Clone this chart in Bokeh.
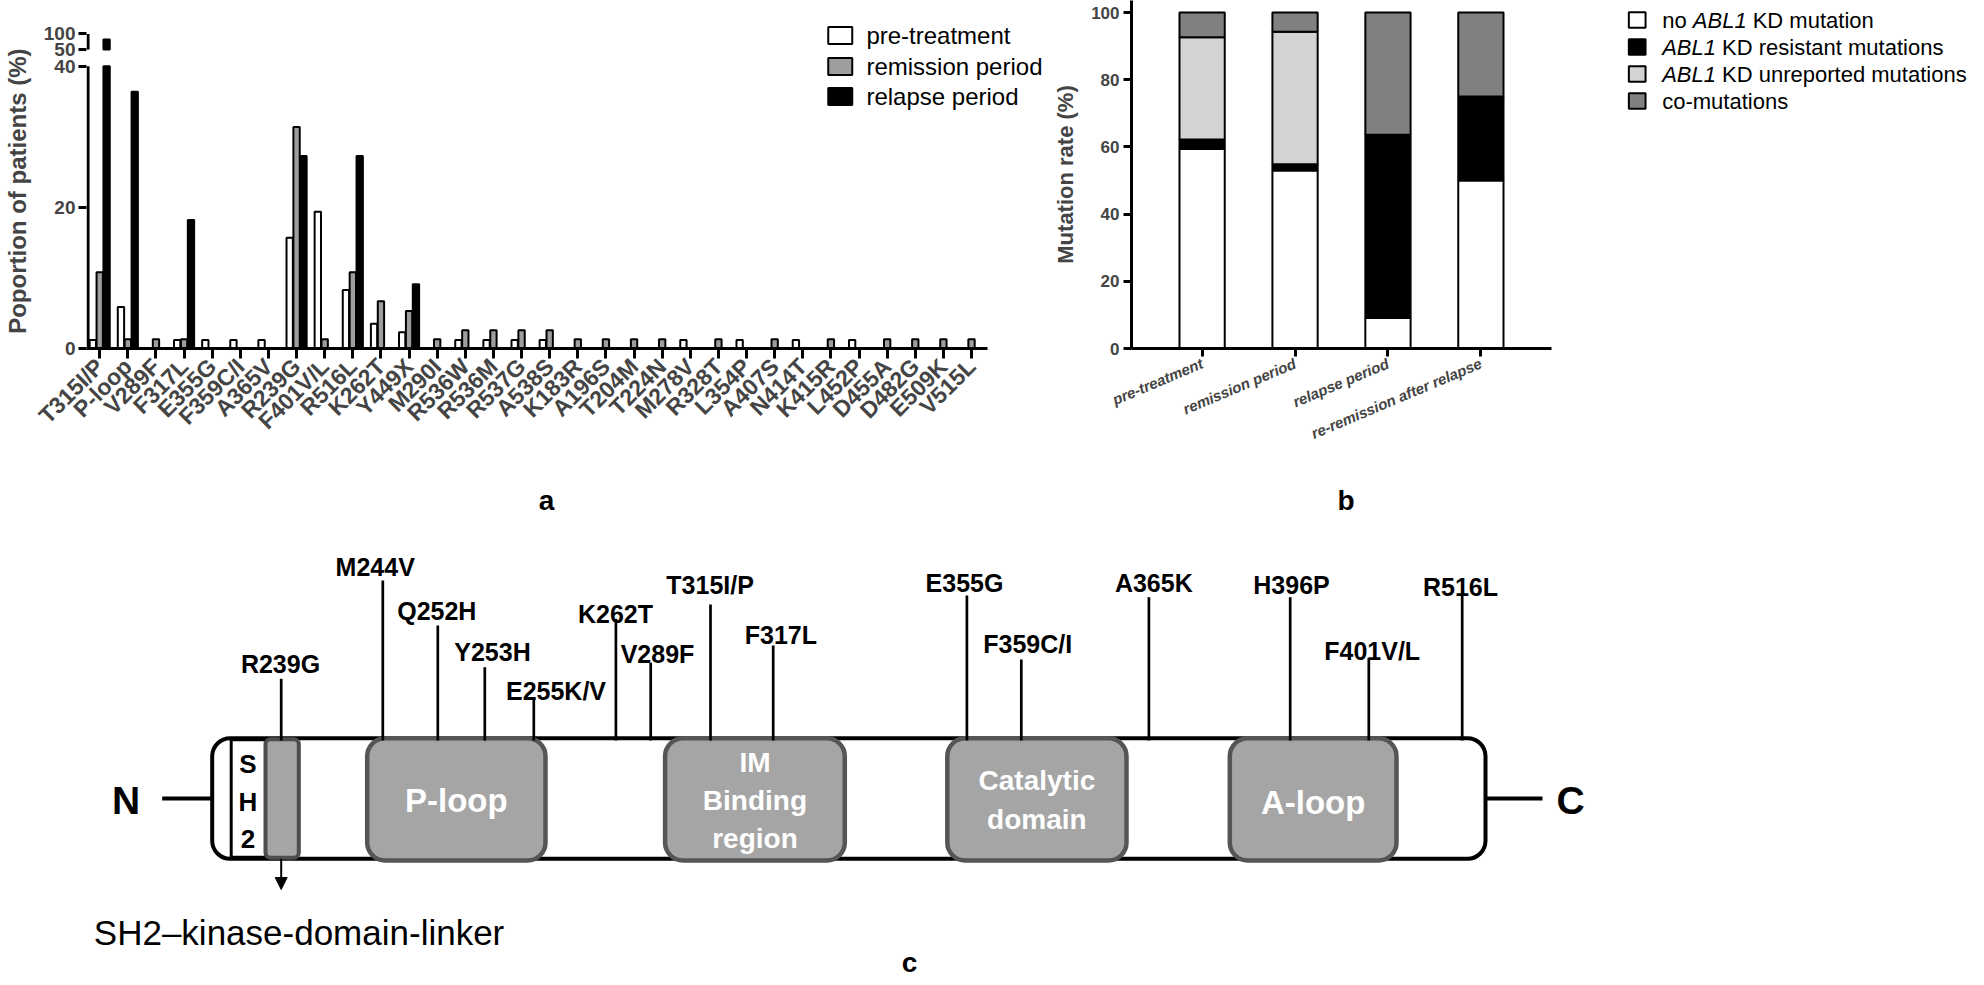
import math
from bokeh.plotting import figure
from bokeh.models import Range1d, FixedTicker, Arrow, NormalHead
from bokeh.layouts import column, row
from bokeh.embed import file_html
from bokeh.resources import INLINE
from bokeh.core.properties import value

FONT = "Liberation Sans"

# ---------------- Panel a data ----------------
mutations_a = ["T315I/P", "P-loop", "V289F", "F317L", "E355G", "F359C/I", "A365V", "R239G",
               "F401V/L", "R516L", "K262T", "Y449X", "M290I", "R536W", "R536M", "R537G",
               "A538S", "K183R", "A196S", "T204M", "T224N", "M278V", "R328T", "L354P",
               "A407S", "N414T", "K415R", "L452P", "D455A", "D482G", "E509K", "V515L"]
pre_treatment = [1.2, 5.9, 0, 1.2, 1.2, 1.2, 1.2, 15.7, 19.4, 8.3, 3.5, 2.3, 0, 1.2, 1.2, 1.2,
                 1.2, 0, 0, 0, 0, 1.2, 0, 1.2, 0, 1.2, 0, 1.2, 0, 0, 0, 0]
remission = [10.8, 1.3, 1.3, 1.3, 0, 0, 0, 31.4, 1.3, 10.8, 6.7, 5.3, 1.3, 2.6, 2.6, 2.6,
             2.6, 1.3, 1.3, 1.3, 1.3, 0, 1.3, 0, 1.3, 0, 1.3, 0, 1.3, 1.3, 1.3, 1.3]
relapse = [81.8, 36.4, 0, 18.2, 0, 0, 0, 27.3, 0, 27.3, 0, 9.1, 0, 0, 0, 0,
           0, 0, 0, 0, 0, 0, 0, 0, 0, 0, 0, 0, 0, 0, 0, 0]
series_a = ["pre-treatment", "remission period", "relapse period"]
y_ticks_a = [0, 20, 40, 50, 100]

# ---------------- Panel b data ----------------
groups_b = ["pre-treatment", "remission period", "relapse period", "re-remission after relapse"]
no_mutation = [59.4, 53.0, 9.1, 50.0]
resistant = [2.8, 1.8, 54.5, 25.0]
unreported = [30.4, 39.5, 0.0, 0.0]
co_mutations = [7.4, 5.7, 36.4, 25.0]

# ---------------- Panel c data ----------------
c_mutations = ["R239G", "M244V", "Q252H", "Y253H", "E255K/V", "K262T", "V289F", "T315I/P",
               "F317L", "E355G", "F359C/I", "A365K", "H396P", "F401V/L", "R516L"]
c_domains = ["P-loop", "IM Binding region", "Catalytic domain", "A-loop"]

ROW_H = 465
FRAME_BOT = 348                      # page pixel of the (aligned) frame bottoms in the top row
MB_BOTTOM = ROW_H - FRAME_BOT

# ======================= Panel a =======================
BREAK_LOW, BREAK_HIGH = 40, 50
D50, D100 = 42.4, 44.6


def disp(v):
    if v <= BREAK_LOW:
        return v
    return D50 + (v - BREAK_HIGH) * (D100 - D50) / (100 - BREAK_HIGH)


XA0, XA1 = -0.47, 31.58
PXU_A = 28.27                      # px per category
YPX_A = (FRAME_BOT - 33.4) / D100  # px per display unit
XA_END = XA1 + (1050 - 987) / PXU_A

pa = figure(width=1050, height=ROW_H, x_range=Range1d(XA0, XA_END),
            y_range=Range1d(0, FRAME_BOT / YPX_A),
            output_backend="svg", toolbar_location=None, title_location=None,
            min_border_left=81, min_border_right=0, min_border_top=0, min_border_bottom=MB_BOTTOM)
pa.outline_line_color = None
pa.grid.visible = False


def a_x(px):
    return XA0 + (px - 81) / PXU_A


def a_y(py):
    return (FRAME_BOT - py) / YPX_A


fills_a = ["white", "#9e9e9e", "black"]
offsets_a = [-0.245, 0.0, 0.245]
for vals, fc, off in zip([pre_treatment, remission, relapse], fills_a, offsets_a):
    xs = [i + off for i, v in enumerate(vals) if v > 0]
    tops = [min(disp(v), BREAK_LOW) for v in vals if v > 0]
    pa.vbar(x=xs, top=tops, bottom=0, width=0.225, fill_color=fc,
            line_color="black", line_width=2)
    ux = [i + off for i, v in enumerate(vals) if v > BREAK_HIGH]
    ut = [disp(v) for v in vals if v > BREAK_HIGH]
    if ux:
        pa.vbar(x=ux, top=ut, bottom=D50, width=0.225, fill_color=fc,
                line_color="black", line_width=2)

# broken y axis line
ax_x = XA0 + 0.055
pa.segment(x0=[ax_x, ax_x], y0=[0, disp(50)], x1=[ax_x, ax_x], y1=[40, disp(100)],
           line_color="black", line_width=3)

ya = pa.yaxis[0]
ya.ticker = FixedTicker(ticks=[disp(t) for t in y_ticks_a])
ya.major_label_overrides = {disp(t): str(t) for t in y_ticks_a}
ya.axis_line_color = None
ya.major_tick_line_width = 3
ya.major_tick_out = 8
ya.major_tick_in = 0
ya.minor_tick_line_color = None
ya.major_label_text_font = FONT
ya.major_label_text_font_style = "bold"
ya.major_label_text_font_size = "19px"
ya.major_label_standoff = 3
ya.axis_label = "Poportion of patients (%)" + "\u00a0" * 5
ya.axis_label_text_font = FONT
ya.axis_label_text_font_style = "bold"
ya.axis_label_text_font_size = "24px"
ya.axis_label_standoff = 10

xa = pa.xaxis[0]
xa.ticker = FixedTicker(ticks=list(range(len(mutations_a))))
xa.major_label_overrides = {i: m for i, m in enumerate(mutations_a)}
xa.major_label_orientation = math.pi / 4
xa.bounds = (XA0, XA1)
xa.axis_line_width = 3
xa.major_tick_line_width = 3
xa.major_tick_out = 10
xa.major_tick_in = 0
xa.minor_tick_line_color = None
xa.major_label_text_font = FONT
xa.major_label_text_font_style = "bold"
xa.major_label_text_font_size = "23px"
xa.major_label_standoff = 4

# legend of panel a
leg_y = [a_y(35), a_y(66), a_y(96)]
pa.rect(x=[a_x(838.7)] * 3, y=leg_y, width=24, height=17, width_units="screen",
        height_units="screen", fill_color=fills_a, line_color="black", line_width=2)
pa.text(x=[a_x(865)] * 3, y=leg_y, text=series_a, text_font=value(FONT), text_font_size="24px",
        text_baseline="middle", text_align="left")

# ======================= Panel b =======================
YB_PX = (FRAME_BOT - 12) / 100.0
pb = figure(width=550, height=ROW_H, x_range=Range1d(-0.76, 3.76),
            y_range=Range1d(0, FRAME_BOT / YB_PX),
            output_backend="svg", toolbar_location=None, title_location=None,
            min_border_left=77, min_border_right=49, min_border_top=0, min_border_bottom=MB_BOTTOM)
pb.outline_line_color = None
pb.grid.visible = False
src_b = dict(x=list(range(len(groups_b))), no=no_mutation, res=resistant,
             unrep=unreported, co=co_mutations)
pb.vbar_stack(["no", "res", "unrep", "co"], x="x", width=0.487, source=src_b,
              fill_color=["white", "black", "#d3d3d3", "#808080"],
              line_color="black", line_width=2)

yb = pb.yaxis[0]
yb.ticker = FixedTicker(ticks=[0, 20, 40, 60, 80, 100])
yb.axis_line_width = 3
yb.major_tick_line_width = 3
yb.major_tick_out = 8
yb.major_tick_in = 0
yb.minor_tick_line_color = None
yb.major_label_text_font = FONT
yb.major_label_text_font_style = "bold"
yb.major_label_text_font_size = "17px"
yb.major_label_standoff = 4
yb.axis_label = "Mutation rate (%)"
yb.axis_label_text_font = FONT
yb.axis_label_text_font_style = "bold"
yb.axis_label_text_font_size = "22px"
yb.axis_label_standoff = 10

xb = pb.xaxis[0]
xb.ticker = FixedTicker(ticks=list(range(len(groups_b))))
xb.major_label_overrides = {i: g for i, g in enumerate(groups_b)}
xb.major_label_orientation = 0.40
xb.axis_line_width = 3
xb.major_tick_line_width = 3
xb.major_tick_out = 8
xb.major_tick_in = 0
xb.minor_tick_line_color = None
xb.major_label_text_font = FONT
xb.major_label_text_font_style = "bold italic"
xb.major_label_text_font_size = "15px"
xb.major_label_standoff = 6

# ======================= Legend b (own canvas, page-pixel coordinates) =======================
plb = figure(width=382, height=ROW_H, x_range=Range1d(1600, 1982),
             y_range=Range1d(FRAME_BOT, 0),
             output_backend="svg", toolbar_location=None, title_location=None,
             min_border_left=0, min_border_right=0, min_border_top=0, min_border_bottom=MB_BOTTOM,
             x_axis_location=None, y_axis_location=None)
plb.outline_line_color = None
plb.grid.visible = False
leg_rows = [19.5, 46.5, 73.5, 100.5]
plb.rect(x=[1636.7] * 4, y=leg_rows, width=16.7, height=15.5,
         fill_color=["white", "black", "#d3d3d3", "#808080"], line_color="black", line_width=2)
TXT = dict(text_font=value(FONT), text_font_size="22px", text_baseline="middle", text_align="left")
plb.text(x=[1661.7, 1752.2, 1721.6, 1721.6, 1661.7],
         y=[leg_rows[0], leg_rows[0], leg_rows[1], leg_rows[2], leg_rows[3]],
         text=["no", "KD mutation", "KD  resistant mutations", "KD unreported mutations",
               "co-mutations"], **TXT)
plb.text(x=[1692.3, 1661.7, 1661.7], y=[leg_rows[0], leg_rows[1], leg_rows[2]],
         text=["ABL1", "ABL1", "ABL1"], text_font_style="italic", **TXT)

# ======================= Panel c (schematic, page-pixel coordinates) =======================
pc = figure(width=1982, height=518, x_range=Range1d(0, 1982), y_range=Range1d(983, ROW_H),
            output_backend="svg", toolbar_location=None, title_location=None, min_border=0,
            x_axis_location=None, y_axis_location=None)
pc.outline_line_color = None
pc.grid.visible = False

BOX_T, BOX_B = 737.7, 858.3
MID = 798.0


def rquad(**kw):
    try:
        return pc.quad(**kw)
    except Exception:
        kw.pop("border_radius", None)
        return pc.quad(**kw)


pc.segment(x0=[161.7, 1485], y0=[MID, MID], x1=[211.7, 1542], y1=[MID, MID],
           line_color="black", line_width=4)
pc.text(x=[125.7, 1570], y=[MID + 2, MID + 2], text=["N", "C"], text_font=value(FONT),
        text_font_style="bold", text_font_size="39px", text_align="center", text_baseline="middle")

rquad(left=[211.7], right=[1485], top=[BOX_T], bottom=[BOX_B], fill_color="white",
      line_color="black", line_width=4, border_radius=18)
pc.quad(left=[230.7], right=[265], top=[BOX_T + 1.5], bottom=[BOX_B - 1.5], fill_color="white",
        line_color="black", line_width=3)
pc.text(x=[247.5] * 3, y=[763, 801.7, 838], text=["S", "H", "2"], text_font=value(FONT),
        text_font_style="bold", text_font_size="26px", text_align="center", text_baseline="middle")
rquad(left=[265], right=[298.3], top=[BOX_T + 1], bottom=[BOX_B - 1], fill_color="#a6a6a6",
      line_color="#4d4d4d", line_width=4, border_radius=5)
pc.add_layout(Arrow(end=NormalHead(size=12, fill_color="black", line_color="black"),
                    x_start=280.7, y_start=BOX_B, x_end=280.7, y_end=889,
                    line_color="black", line_width=2))
pc.text(x=[93.3], y=[931.7], text=["SH2\u2013kinase-domain-linker"], text_font=value(FONT),
        text_font_size="35px", text_align="left", text_baseline="alphabetic")

dom_left = [366.7, 664.6, 946.8, 1229.3]
dom_right = [545.0, 844.3, 1126.0, 1396.0]
rquad(left=dom_left, right=dom_right, top=[BOX_T] * 4, bottom=[860] * 4, fill_color="#a5a5a5",
      line_color="#555555", line_width=4.5, border_radius=18)
line_sets = [["P-loop"], ["IM", "Binding", "region"], ["Catalytic", "domain"], ["A-loop"]]
line_ys = [[800], [761.5, 799.5, 838], [780, 819], [801.7]]
big_x, big_y, big_t, sm_x, sm_y, sm_t = [], [], [], [], [], []
for l, r_, lines, ys in zip(dom_left, dom_right, line_sets, line_ys):
    for t, yy in zip(lines, ys):
        if len(lines) == 1:
            big_x.append((l + r_) / 2); big_y.append(yy); big_t.append(t)
        else:
            sm_x.append((l + r_) / 2); sm_y.append(yy); sm_t.append(t)
pc.text(x=big_x, y=big_y, text=big_t, text_font=value(FONT), text_font_style="bold",
        text_font_size="33px", text_color="white", text_align="center", text_baseline="middle")
pc.text(x=sm_x, y=sm_y, text=sm_t, text_font=value(FONT), text_font_style="bold",
        text_font_size="28px", text_color="white", text_align="center", text_baseline="middle")

stem_x = [280.7, 382.3, 437.3, 484.3, 533.3, 615.4, 650.2, 710.0, 772.7, 966.4, 1020.8,
          1148.4, 1289.7, 1368.3, 1461.7]
stem_top = [678.3, 580, 625, 666.7, 697.7, 618.3, 662.3, 604, 645, 595, 659, 596.7, 596.7,
            657.3, 595]
label_x = [280, 374.7, 436.3, 492, 555.5, 615, 657, 709.6, 780.4, 964, 1027.2, 1153.3, 1291,
           1371.7, 1460]
label_y = [663.3, 566.7, 610, 651.7, 690, 613.3, 653.3, 584, 634, 582.7, 643.3, 582.7, 584,
           650, 586]
pc.segment(x0=stem_x, y0=stem_top, x1=stem_x, y1=[740] * len(stem_x), line_color="black",
           line_width=2.7)
pc.text(x=label_x, y=label_y, text=c_mutations, text_font=value(FONT), text_font_style="bold",
        text_font_size="25px", text_align="center", text_baseline="alphabetic")

pc.text(x=[546, 1345.6, 909], y=[500, 500, 962], text=["a", "b", "c"], text_font=value(FONT),
        text_font_style="bold", text_font_size="28px", text_align="center", text_baseline="middle")

layout = column(row(pa, pb, plb), pc)
open("out.html", "w").write(file_html(layout, INLINE))
